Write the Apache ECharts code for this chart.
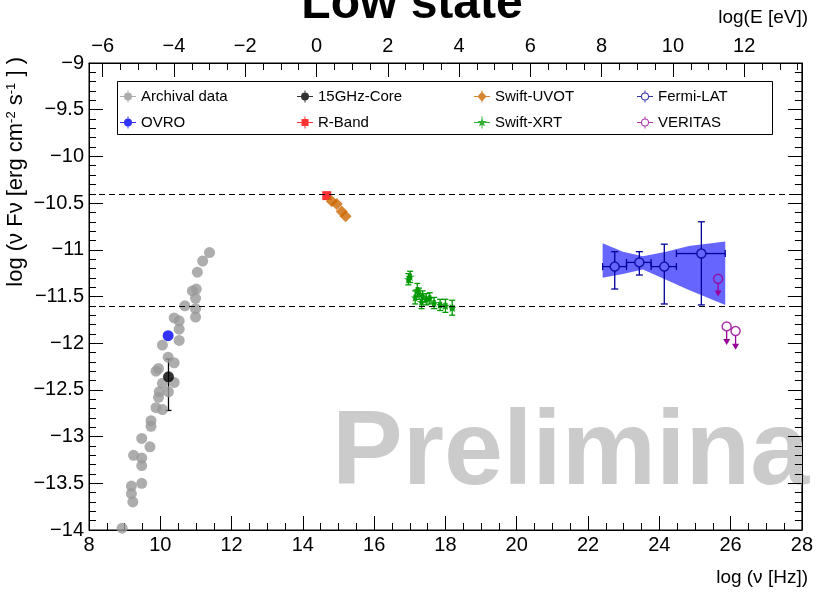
<!DOCTYPE html>
<html>
<head>
<meta charset="utf-8">
<script src="https://cdn.jsdelivr.net/npm/echarts@6/dist/echarts.min.js"></script>
<style>
  html, body { margin: 0; padding: 0; background: #fff; }
  #chart { width: 816px; height: 592px; }
</style>
</head>
<body>
<div id="chart"></div>
<script>
// ---- data (log nu [Hz], log nuFnu [erg cm-2 s-1]) ----
const archivalX = [11.38, 11.19, 11.04, 10.90, 11.01, 10.99, 10.69, 10.99, 10.99, 10.39, 10.53, 10.53, 10.53,
  10.06, 10.22, 10.39, 9.95, 9.88, 10.39, 10.06, 9.97, 10.23, 9.95, 9.88, 10.06, 9.74, 9.74, 9.48, 9.71,
  9.25, 9.48, 9.48, 9.19, 9.48, 9.19, 9.23, 8.93];
const archivalY = [-11.03, -11.12, -11.24, -11.44, -11.42, -11.52, -11.60, -11.63, -11.72, -11.73, -11.76, -11.85, -11.97,
  -12.02, -12.15, -12.21, -12.27, -12.30, -12.42, -12.43, -12.52, -12.52, -12.58, -12.69, -12.71, -12.83, -12.89, -13.02, -13.11,
  -13.20, -13.23, -13.31, -13.53, -13.50, -13.61, -13.70, -13.98];

const ovroX = [10.22];
const ovroY = [-11.92];

const coreX = [10.23];
const coreY = [-12.36];
const coreYLo = [-12.72];
const coreYHi = [-12.17];

const rbandX = [14.67];
const rbandY = [-10.42];

const uvotX = [14.81, 14.95, 15.09, 15.20];
const uvotY = [-10.48, -10.51, -10.59, -10.64];

const xrtX = [16.96, 17.01, 17.21, 17.15, 17.26, 17.36, 17.46, 17.56, 17.33, 17.68, 17.85, 18.00, 18.19];
const xrtY = [-11.315, -11.29, -11.43, -11.51, -11.47, -11.50, -11.53, -11.52, -11.56, -11.57, -11.59, -11.60, -11.62];
const xrtXErr = [0.03, 0.03, 0.03, 0.03, 0.03, 0.03, 0.03, 0.03, 0.03, 0.03, 0.04, 0.04, 0.05];
const xrtYErr = [0.06, 0.06, 0.07, 0.07, 0.06, 0.06, 0.06, 0.06, 0.07, 0.06, 0.06, 0.07, 0.08];

const fermiX = [22.75, 23.44, 24.14, 25.18];
const fermiY = [-11.18, -11.135, -11.18, -11.04];
const fermiXLo = [22.41, 23.08, 23.77, 24.48];
const fermiXHi = [23.08, 23.77, 24.48, 25.85];
const fermiYLo = [-11.42, -11.27, -11.58, -11.59];
const fermiYHi = [-11.02, -11.02, -10.94, -10.70];

const bandX = [22.41, 22.98, 23.54, 24.19, 24.83, 25.85];
const bandUpper = [-10.93, -11.02, -11.07, -11.02, -10.96, -10.91];
const bandLower = [-11.30, -11.26, -11.21, -11.32, -11.43, -11.59];

const veritasX = [25.65, 25.89, 26.14];
const veritasY = [-11.31, -11.82, -11.87];
const veritasTip = [-11.50, -12.02, -12.07];

const refLevels = [-10.4, -11.6];

const xTicks = [8, 28, 2];          // min, max, step of log(nu)
const yTicks = [-14, -9, 0.5];
const eTickLabels = [-6, -4, -2, 0, 2, 4, 6, 8, 10, 12];
const eMinorTicks = [-6.5, -5.5, -5, -4.5, -3.5, -3, -2.5, -1.5, -1, -0.5, 0.5, 1, 1.5, 2.5, 3, 3.5,
  4.5, 5, 5.5, 6.5, 7, 7.5, 8.5, 9, 9.5, 10.5, 11, 11.5, 12.5, 13, 13.5];
const logHeV = -14.383;             // log10(h [eV s])

// ---- helpers ----
const FONT = 'Liberation Sans';
const minus = v => (v < 0 ? '\u2212' : '') + Math.abs(v);

function errorBars(gap, cap) {
  return function (params, api) {
    const x = api.value(0), y = api.value(1);
    const c = api.coord([x, y]);
    const xl = api.coord([api.value(2), y])[0];
    const xh = api.coord([api.value(3), y])[0];
    const yl = api.coord([x, api.value(4)])[1];
    const yh = api.coord([x, api.value(5)])[1];
    const style = { stroke: api.visual('color'), lineWidth: 1.3 };
    const seg = (x1, y1, x2, y2) => ({ type: 'line', shape: { x1, y1, x2, y2 }, style });
    const kids = [];
    if (c[0] - xl > gap) {
      kids.push(seg(xl, c[1], c[0] - gap, c[1]));
      if (cap) kids.push(seg(xl, c[1] - cap, xl, c[1] + cap));
    }
    if (xh - c[0] > gap) {
      kids.push(seg(c[0] + gap, c[1], xh, c[1]));
      if (cap) kids.push(seg(xh, c[1] - cap, xh, c[1] + cap));
    }
    if (yl - c[1] > gap) {
      kids.push(seg(c[0], c[1] + gap, c[0], yl));
      if (cap) kids.push(seg(c[0] - cap, yl, c[0] + cap, yl));
    }
    if (c[1] - yh > gap) {
      kids.push(seg(c[0], yh, c[0], c[1] - gap));
      if (cap) kids.push(seg(c[0] - cap, yh, c[0] + cap, yh));
    }
    return { type: 'group', children: kids };
  };
}

const starPath = 'path://M50,0L61,35L98,35L68,57L79,91L50,70L21,91L32,57L2,35L39,35Z';

// legend icons: 16x12 box, marker + error bar cross
const bars = 'M0,5.5H16V6.5H0Z M7.5,0H8.5V12H7.5Z ';
const icons = {
  circle: 'path://' + bars + 'M4,6A4,4 0 1,1 12,6A4,4 0 1,1 4,6Z',
  square: 'path://' + bars + 'M4.5,2.5H11.5V9.5H4.5Z',
  diamond: 'path://' + bars + 'M8,1L12.5,6L8,11L3.5,6Z',
  star: 'path://' + bars + 'M8,1L9.18,4.38L12.76,4.45L9.9,6.62L10.94,10.05L8,8L5.06,10.05L6.1,6.62L3.24,4.45L6.82,4.38Z',
  ring: 'path://M0,5.5H4V6.5H0Z M12,5.5H16V6.5H12Z M7.5,0H8.5V2H7.5Z M7.5,10H8.5V12H7.5Z ' +
    'M4,6A4,4 0 1,1 12,6A4,4 0 1,1 4,6Z M5,6A3,3 0 1,0 11,6A3,3 0 1,0 5,6Z'
};

const colors = {
  archival: '#999999', ovro: '#0000ff', core: '#000000', rband: '#ff0000',
  uvot: '#cc6600', xrt: '#009900', fermi: '#000099', veritas: '#990099'
};

function legendCol(left, items) {
  return {
    orient: 'vertical', left: left, top: 89, padding: 0,
    itemWidth: 16, itemHeight: 12, itemGap: 11, selectedMode: false,
    textStyle: { fontFamily: FONT, fontSize: 15, color: '#000' },
    data: items.map(it => ({ name: it[0], icon: icons[it[1]], itemStyle: { color: it[2], borderWidth: 0 } }))
  };
}

const zip = (a, b) => a.map((v, i) => [v, b[i]]);
const blackLine = { show: true, onZero: false, lineStyle: { color: '#000', width: 1 } };

const chart = echarts.init(document.getElementById('chart'));

const option = {
  animation: false,
  backgroundColor: '#fff',
  grid: { left: 89, right: 7, top: 63, bottom: 62, show: true, borderColor: '#000', borderWidth: 1, backgroundColor: 'transparent' },
  legend: [
    legendCol(120, [['Archival data', 'circle', colors.archival], ['OVRO', 'circle', colors.ovro]]),
    legendCol(297, [['15GHz-Core', 'circle', colors.core], ['R-Band', 'square', colors.rband]]),
    legendCol(474, [['Swift-UVOT', 'diamond', colors.uvot], ['Swift-XRT', 'star', colors.xrt]]),
    legendCol(637, [['Fermi-LAT', 'ring', colors.fermi], ['VERITAS', 'ring', colors.veritas]])
  ],
  xAxis: [
    {
      type: 'value', position: 'bottom', min: xTicks[0], max: xTicks[1], interval: xTicks[2],
      axisLine: blackLine,
      axisTick: { inside: true, length: 14, lineStyle: { color: '#000' } },
      minorTick: { show: true, splitNumber: 4, length: 7, lineStyle: { color: '#000' } },
      splitLine: { show: false },
      axisLabel: { fontFamily: FONT, fontSize: 20, color: '#000', margin: 5, formatter: minus }
    },
    {
      type: 'value', position: 'top', min: xTicks[0] + logHeV, max: xTicks[1] + logHeV,
      axisLine: blackLine,
      axisTick: { inside: true, length: 14, customValues: eTickLabels, lineStyle: { color: '#000' } },
      splitLine: { show: false },
      axisLabel: { fontFamily: FONT, fontSize: 20, color: '#000', margin: 7, customValues: eTickLabels, formatter: minus }
    },
    {
      type: 'value', position: 'top', min: xTicks[0] + logHeV, max: xTicks[1] + logHeV,
      axisLine: { show: false, onZero: false },
      axisTick: { inside: true, length: 7, customValues: eMinorTicks, lineStyle: { color: '#000' } },
      splitLine: { show: false },
      axisLabel: { show: false }
    }
  ],
  yAxis: [
    {
      type: 'value', position: 'left', min: yTicks[0], max: yTicks[1], interval: yTicks[2],
      axisLine: blackLine,
      axisTick: { show: true, inside: true, length: 14, lineStyle: { color: '#000' } },
      minorTick: { show: true, splitNumber: 5, length: 7, lineStyle: { color: '#000' } },
      splitLine: { show: false },
      axisLabel: { fontFamily: FONT, fontSize: 20, color: '#000', margin: 5, formatter: minus }
    },
    {
      type: 'value', position: 'right', min: yTicks[0], max: yTicks[1], interval: yTicks[2],
      axisLine: blackLine,
      axisTick: { show: true, inside: true, length: 14, lineStyle: { color: '#000' } },
      minorTick: { show: true, splitNumber: 5, length: 7, lineStyle: { color: '#000' } },
      splitLine: { show: false },
      axisLabel: { show: false }
    }
  ],
  graphic: [
    { type: 'text', z: 10, style: { text: 'Low state', x: 412, y: 5, align: 'center', verticalAlign: 'middle', font: 'bold 48px "Liberation Sans"', fill: '#000' } },
    { type: 'text', z: 10, style: { text: 'log(E [eV])', x: 808, y: 18, align: 'right', verticalAlign: 'middle', font: '19px "Liberation Sans"', fill: '#000' } },
    { type: 'text', z: 10, style: { text: 'log (\u03bd [Hz])', x: 808, y: 578, align: 'right', verticalAlign: 'middle', font: '19px "Liberation Sans"', fill: '#000' } },
    {
      type: 'text', z: 10, x: 16, y: 57, rotation: Math.PI / 2,
      style: {
        text: 'log (\u03bd F\u03bd [erg cm{sup|-2} s{sup|-1} ] )', align: 'right', verticalAlign: 'middle',
        font: '22px "Liberation Sans"', fill: '#000',
        rich: { sup: { fontSize: 13, fontFamily: FONT, verticalAlign: 'top', fill: '#000' } }
      }
    },
    { type: 'text', z: 0, style: { text: 'Preliminary', x: 332, y: 455, align: 'left', verticalAlign: 'middle', font: 'bold 106px "Liberation Sans"', fill: '#cbcbcb' } },
    { type: 'rect', z: 1, shape: { x: 117.5, y: 81.5, width: 655, height: 53 }, style: { fill: '#fff', stroke: '#000', lineWidth: 1 } }
  ],
  series: [
    {
      name: 'Fermi-LAT band', type: 'custom', clip: true, z: 1,
      data: bandX.map((x, i) => [x, bandUpper[i], bandLower[i]]),
      encode: { x: 0, y: 1 },
      renderItem: function (params, api) {
        if (params.dataIndex !== 0) return null;
        const up = bandX.map((x, i) => api.coord([x, bandUpper[i]]));
        const lo = bandX.map((x, i) => api.coord([x, bandLower[i]])).reverse();
        return { type: 'polygon', shape: { points: up.concat(lo) }, style: { fill: 'rgba(0,0,255,0.6)' } };
      },
      silent: true
    },
    {
      name: 'levels', type: 'line', data: [], silent: true,
      markLine: {
        symbol: 'none', silent: true, label: { show: false },
        lineStyle: { color: '#000', width: 1, type: [6, 4] },
        data: refLevels.map(v => ({ yAxis: v }))
      }
    },
    { name: 'Archival data', type: 'scatter', symbol: 'circle', symbolSize: 11, itemStyle: { color: colors.archival }, data: zip(archivalX, archivalY) },
    { name: 'OVRO', type: 'scatter', symbol: 'circle', symbolSize: 11, itemStyle: { color: colors.ovro }, data: zip(ovroX, ovroY) },
    {
      name: 'core err', type: 'custom', clip: true, itemStyle: { color: colors.core }, encode: { x: 0, y: 1 },
      data: coreX.map((x, i) => [x, coreY[i], x, x, coreYLo[i], coreYHi[i]]), renderItem: errorBars(0, 3)
    },
    { name: '15GHz-Core', type: 'scatter', symbol: 'circle', symbolSize: 11, itemStyle: { color: colors.core }, data: zip(coreX, coreY) },
    { name: 'R-Band', type: 'scatter', symbol: 'rect', symbolSize: 9, itemStyle: { color: colors.rband }, data: zip(rbandX, rbandY) },
    { name: 'Swift-UVOT', type: 'scatter', symbol: 'diamond', symbolSize: 12, itemStyle: { color: colors.uvot }, data: zip(uvotX, uvotY) },
    {
      name: 'xrt err', type: 'custom', clip: true, itemStyle: { color: colors.xrt }, encode: { x: 0, y: 1 },
      data: xrtX.map((x, i) => [x, xrtY[i], x - xrtXErr[i], x + xrtXErr[i], xrtY[i] - xrtYErr[i], xrtY[i] + xrtYErr[i]]),
      renderItem: errorBars(0, 3)
    },
    { name: 'Swift-XRT', type: 'scatter', symbol: starPath, symbolSize: 9, itemStyle: { color: colors.xrt }, data: zip(xrtX, xrtY) },
    {
      name: 'fermi err', type: 'custom', clip: true, itemStyle: { color: colors.fermi }, encode: { x: 0, y: 1 },
      data: fermiX.map((x, i) => [x, fermiY[i], fermiXLo[i], fermiXHi[i], fermiYLo[i], fermiYHi[i]]),
      renderItem: errorBars(4.5, 3.5)
    },
    {
      name: 'Fermi-LAT', type: 'scatter', symbol: 'circle', symbolSize: 9,
      itemStyle: { color: 'rgba(0,0,0,0)', borderColor: colors.fermi, borderWidth: 1.5 }, data: zip(fermiX, fermiY)
    },
    {
      name: 'veritas arrows', type: 'custom', clip: true, itemStyle: { color: colors.veritas }, encode: { x: 0, y: 1 },
      data: veritasX.map((x, i) => [x, veritasY[i], veritasTip[i]]),
      renderItem: function (params, api) {
        const c = api.coord([api.value(0), api.value(1)]);
        const tip = api.coord([api.value(0), api.value(2)])[1];
        const col = api.visual('color');
        return {
          type: 'group', children: [
            { type: 'line', shape: { x1: c[0], y1: c[1] + 4.5, x2: c[0], y2: tip - 5 }, style: { stroke: col, lineWidth: 1.3 } },
            { type: 'polygon', shape: { points: [[c[0] - 3.5, tip - 6], [c[0] + 3.5, tip - 6], [c[0], tip]] }, style: { fill: col } }
          ]
        };
      }
    },
    {
      name: 'VERITAS', type: 'scatter', symbol: 'circle', symbolSize: 9,
      itemStyle: { color: 'rgba(0,0,0,0)', borderColor: colors.veritas, borderWidth: 1.5 }, data: zip(veritasX, veritasY)
    }
  ]
};

chart.setOption(option);
</script>
</body>
</html>
